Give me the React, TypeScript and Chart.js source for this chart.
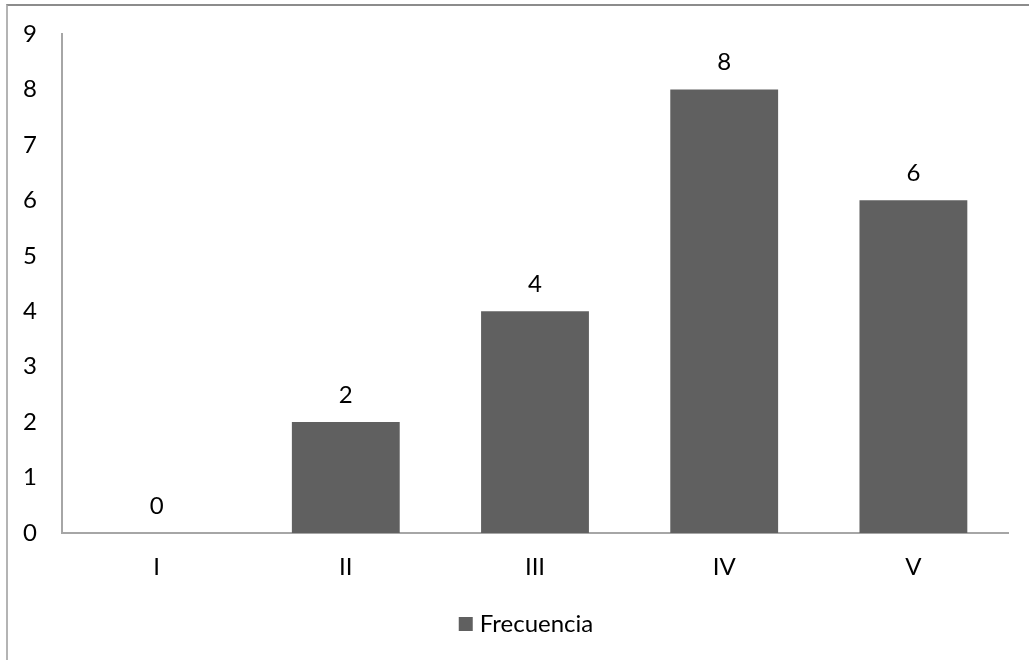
import React, { useEffect, useRef } from "react";
import { Chart, registerables } from "chart.js";

Chart.register(...registerables);

const categories = ["I", "II", "III", "IV", "V"];
const frecuencia = [0, 2, 4, 8, 6];
const seriesName = "Frecuencia";
const yTicks = [0, 1, 2, 3, 4, 5, 6, 7, 8, 9];

const FONT = "Lato, 'Open Sans', 'DejaVu Sans', sans-serif";
const FONT_SIZE = 24;
const BAR_COLOR = "#606060";
const AXIS_COLOR = "#a6a6a6";

// The chart frame extends a bit past the right edge of the canvas.
const FRAME_LEFT = 7;
const FRAME_WIDTH = 1038;

// Draws each bar's value just above its top edge.
const valueLabels = {
  id: "valueLabels",
  afterDatasetsDraw(chart: any) {
    const ctx = chart.ctx;
    const meta = chart.getDatasetMeta(0);
    ctx.save();
    ctx.font = `${FONT_SIZE}px ${FONT}`;
    ctx.fillStyle = "#000";
    ctx.textAlign = "center";
    ctx.textBaseline = "alphabetic";
    meta.data.forEach((bar: any, i: number) => {
      const v = chart.data.datasets[0].data[i];
      ctx.fillText(String(v), bar.x, bar.y - 19);
    });
    ctx.restore();
  },
};

// Single-entry legend centred under the chart frame.
const bottomLegend = {
  id: "bottomLegend",
  afterDraw(chart: any) {
    const ctx = chart.ctx;
    const ds = chart.data.datasets[0];
    ctx.save();
    ctx.font = `${FONT_SIZE}px ${FONT}`;
    const textW = ctx.measureText(ds.label).width;
    const box = 14;
    const gap = 7;
    const total = box + gap + textW;
    const cx = FRAME_LEFT + FRAME_WIDTH / 2;
    const x0 = cx - total / 2;
    const baseline = chart.height - 28;
    ctx.fillStyle = ds.backgroundColor;
    ctx.fillRect(x0, baseline - 15, box, box);
    ctx.fillStyle = "#000";
    ctx.textAlign = "left";
    ctx.textBaseline = "alphabetic";
    ctx.fillText(ds.label, x0 + box + gap, baseline);
    ctx.restore();
  },
};

export default function App() {
  const canvasRef = useRef<HTMLCanvasElement | null>(null);

  useEffect(() => {
    if (!canvasRef.current) return;
    const chart = new Chart(canvasRef.current, {
      type: "bar",
      data: {
        labels: categories,
        datasets: [
          {
            label: seriesName,
            data: frecuencia,
            backgroundColor: BAR_COLOR,
            borderWidth: 0,
            categoryPercentage: 1,
            barPercentage: 0.57,
          },
        ],
      },
      options: {
        animation: false,
        responsive: false,
        maintainAspectRatio: false,
        layout: { padding: { top: 34, right: 21, bottom: 59, left: 0 } },
        plugins: {
          tooltip: { enabled: false },
          legend: { display: false },
        },
        scales: {
          x: {
            grid: { display: false, drawTicks: false },
            border: { display: true, color: AXIS_COLOR, width: 2 },
            ticks: {
              font: { family: FONT, size: FONT_SIZE },
              color: "#000",
              padding: 20,
            },
            afterFit: (scale: any) => {
              scale.height = 68;
            },
          },
          y: {
            min: 0,
            max: 9,
            afterBuildTicks: (scale: any) => {
              scale.ticks = yTicks.map((v) => ({ value: v }));
            },
            grid: { display: false, drawTicks: false },
            border: { display: true, color: AXIS_COLOR, width: 2 },
            ticks: {
              font: { family: FONT, size: FONT_SIZE },
              color: "#000",
              padding: 25,
            },
            afterFit: (scale: any) => {
              scale.width = 62;
              scale.paddingTop = 0;
              scale.paddingBottom = 0;
            },
          },
        },
      },
      plugins: [valueLabels, bottomLegend],
    });
    return () => chart.destroy();
  }, []);

  return (
    <div
      style={{
        position: "fixed",
        left: 0,
        top: 0,
        width: 1029,
        height: 660,
        background: "#fff",
        overflow: "hidden",
      }}
    >
      <div
        style={{
          position: "absolute",
          left: 6,
          top: 4,
          width: 1100,
          height: 700,
          borderLeft: "2px solid #b4b4b4",
          borderTop: "2px solid #8c8c8c",
        }}
      />
      <canvas
        ref={canvasRef}
        width={1029}
        height={660}
        style={{ position: "absolute", left: 0, top: 0 }}
      />
    </div>
  );
}
